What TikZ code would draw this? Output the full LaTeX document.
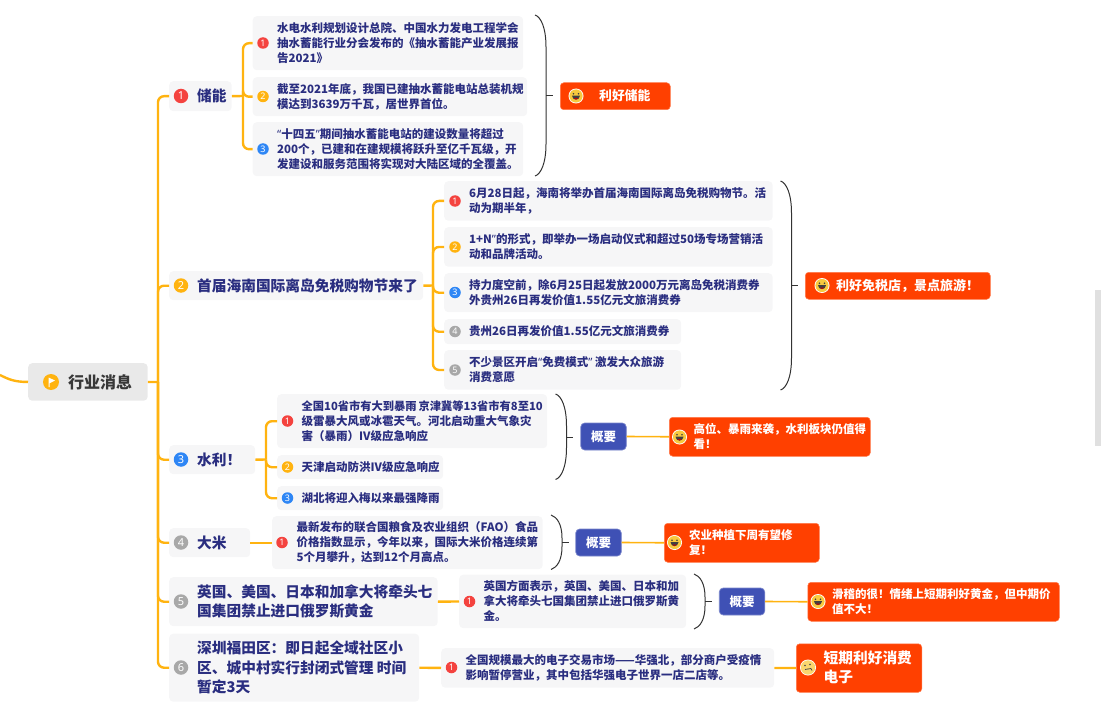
\documentclass[tikz,border=0pt]{standalone}
\usepackage{fontspec}
\usepackage{xcolor}
\setmainfont{Noto Sans CJK SC}
\newfontfamily\latfont{Noto Sans}

\definecolor{linecol}{HTML}{FFB310}
\definecolor{inkcol}{HTML}{2A2E80}
\definecolor{boxcol}{HTML}{F6F6F7}
\definecolor{rootcol}{HTML}{E9E9E9}
\definecolor{hotcol}{HTML}{FF4000}
\definecolor{sumcol}{HTML}{3F51B5}
\definecolor{redcol}{HTML}{F4433F}
\definecolor{ambcol}{HTML}{FFB310}
\definecolor{blucol}{HTML}{2E86F5}
\definecolor{grycol}{HTML}{A8A8A8}
\definecolor{facecol}{HTML}{F8C93E}

\newcommand{\qa}{{\latfont “}}
\newcommand{\qb}{{\latfont ”}}

\tikzset{
	every node/.style={inner sep=0pt},
	topicbox/.style={fill=boxcol, rounded corners=4pt, anchor=north west},
	infobox/.style={fill=boxcol, rounded corners=4pt, anchor=north west},
	hotbox/.style={fill=hotcol, draw=hotcol!70!white, line width=.5pt, rounded corners=3.5pt, anchor=north west},
	sumbox/.style={fill=sumcol, draw=sumcol!70!white, line width=.7pt, rounded corners=4pt, text=white,
		font=\fontsize{12.5}{15}\selectfont\bfseries},
	topictext/.style={anchor=west, align=left, text=inkcol, font=\fontsize{14.7}{19.5}\selectfont\bfseries},
	infotext/.style={anchor=west, align=left, text=inkcol, font=\fontsize{11.5}{15}\selectfont\bfseries},
	hottext/.style={anchor=west, align=left, text=white, font=\fontsize{11.5}{15}\selectfont\bfseries},
	bigbadge/.style={circle, fill=#1, text=white, minimum size=14.5pt, font=\latfont\fontsize{11}{11}\selectfont\bfseries},
	smallbadge/.style={circle, fill=#1, text=white, minimum size=11.5pt, font=\latfont\fontsize{9}{9}\selectfont\bfseries},
	branch/.style={draw=linecol, line width=2.4pt, rounded corners=6pt},
	bracket/.style={draw=black!80, line width=1pt},
	laugh/.pic={
		\fill[white] (0,0) circle (7.5pt);
		\fill[facecol] (0,0) circle (6.6pt);
		\fill[black!75] (-2.5,-2.2) circle (.9pt) (2.5,-2.2) circle (.9pt);
		\fill[black!75] (-4,-.3) .. controls (-3.5,5) and (3.5,5) .. (4,-.3) -- cycle;
		\fill[red!80!black] (-2,2.2) .. controls (-1,4) and (1,4) .. (2,2.2) -- cycle;
	},
	frown/.pic={
		\fill[white] (0,0) circle (8pt);
		\fill[facecol!75!white] (0,0) circle (7.2pt);
		\fill[black!70] (-3,-2) circle (.8pt) (2,-3) circle (.8pt);
		\draw[black!70, line width=.8pt] (-3,2) -- (3,1) (3,1) -- (4,3);
	},
	flagmark/.pic={
		\fill[ambcol] (0,0) circle (8pt);
		\fill[white] (-2.5,-4.5) -- (4,-1.5) -- (-1.3,1.2) -- (-1.3,5) -- (-2.5,5) -- cycle;
	}
}

\begin{document}
\begin{tikzpicture}[x=1pt, y=-1pt]
	\useasboundingbox (0,0) rectangle (1101,706);

	% scrollbar
	\fill[black!12] (1095,290) rectangle (1101,446);

	% root
	\node (root) [fill=rootcol, rounded corners=4pt, anchor=north west, minimum width=119.5pt, minimum height=37.5pt] at (28,363) {};
	\node (roottext) [anchor=west, text=black!78, font=\fontsize{16}{18}\selectfont\bfseries] at (68,382) {行业消息};
	\pic at (51,382) {flagmark};

	% topics
	\foreach \n/\xa/\ya/\xb/\yb/\txt in {
		t1/169/81/231.5/111/{储能},
		t2/169/271/423/300/{首届海南国际离岛免税购物节来了},
		t3/169/445/255/474/{水利！},
		t4/169/528/250/557/{大米},
		t5/169/577/437.5/626/{英国、美国、日本和加拿大将牵头七\\国集团禁止进口俄罗斯黄金},
		t6/169/633.5/419/701.5/{深圳福田区：即日起全域社区小\\区、城中村实行封闭式管理 时间\\暂定3天}}{
		\node (\n) [topicbox, minimum width={\xb-\xa}, minimum height={\yb-\ya}] at (\xa,\ya) {};
		\node (\n text) [topictext] at (197,{(\ya+\yb)/2}) {\txt};
	}

	% leaves
	\foreach \n/\xa/\ya/\xb/\yb/\tx/\txt in {
		a1/252.5/16/523/70/277/{水电水利规划设计总院、中国水力发电工程学会\\抽水蓄能行业分会发布的《抽水蓄能产业发展报\\告2021》},
		a2/252.5/77/527/116/277/{截至2021年底，我国已建抽水蓄能电站总装机规\\模达到3639万千瓦，居世界首位。},
		a3/252.5/122/523/176/277/{\qa 十四五\qb 期间抽水蓄能电站的建设数量将超过\\200个，已建和在建规模将跃升至亿千瓦级，开\\发建设和服务范围将实现对大陆区域的全覆盖。},
		b1/444/181/772.5/220.5/469/{6月28日起，海南将举办首届海南国际离岛免税购物节。活\\动为期半年，},
		b2/444/227/772.5/266.5/469/{1+N\qb 的形式，即举办一场启动仪式和超过50场专场营销活\\动和品牌活动。},
		b3/444/273/772.5/312/469/{持力度空前，除6月25日起发放2000万元离岛免税消费券\\外贵州26日再发价值1.55亿元文旅消费券},
		b4/444/319/681/344/469/{贵州26日再发价值1.55亿元文旅消费券},
		b5/444/350/681/389.5/469/{不少景区开启\qa 免费模式\qb{} 激发大众旅游\\消费意愿},
		c1/277/394/547/448/301.5/{{\fontsize{11.25}{15}\selectfont 全国10省市有大到暴雨\,京津冀等13省市有8至10}\\级雷暴大风或冰雹天气。河北启动重大气象灾\\害（暴雨）IV级应急响应},
		c2/277/455/443/479/301.5/{天津启动防洪IV级应急响应},
		c3/277/486/443/510/301.5/{湖北将迎入梅以来最强降雨},
		d1/272/516/542.5/569/296.5/{最新发布的联合国粮食及农业组织（FAO）食品\\价格指数显示，今年以来，国际大米价格连续第\\5个月攀升，达到12个月高点。},
		e1/459/574.5/686/628/483.5/{英国方面表示，英国、美国、日本和加\\拿大将牵头七国集团禁止进口俄罗斯黄\\金。},
		f1/441/648/774/687.5/465.5/{全国规模最大的电子交易市场——华强北，部分商户受疫情\\影响暂停营业，其中包括华强电子世界一店二店等。}}{
		\node (\n) [infobox, minimum width={\xb-\xa}, minimum height={\yb-\ya}] at (\xa,\ya) {};
		\node (\n text) [infotext] at (\tx,{(\ya+\yb)/2}) {\txt};
	}

	% big badges
	\foreach \n/\y/\c/\num in {t1/96/redcol/1, t2/285.5/ambcol/2, t3/459.5/blucol/3, t4/542.5/grycol/4, t5/601.5/grycol/5, t6/667.5/grycol/6}{
		\node (\n b) [bigbadge=\c] at (181,\y) {\num};
	}

	% small badges
	\foreach \n/\x/\y/\c/\num in {
		a1/263/43/redcol/1, a2/263/96.5/ambcol/2, a3/263/149/blucol/3,
		b1/455/201/redcol/1, b2/455/247/ambcol/2, b3/455/292.5/blucol/3, b4/455/331.5/grycol/4, b5/455/370/grycol/5,
		c1/287.5/421/redcol/1, c2/287.5/467/ambcol/2, c3/287.5/498/blucol/3,
		d1/282/542.5/redcol/1, e1/469.5/601.5/redcol/1, f1/451.5/667.5/redcol/1}{
		\node (\n b) [smallbadge=\c] at (\x,\y) {\num};
	}

	% results
	\foreach \n/\xa/\ya/\xb/\yb/\tx/\txt in {
		r3/669/417/870/456/693.5/{高位、暴雨来袭，水利板块仍值得\\看！},
		r4/664/523/819/562/689/{农业种植下周有望修\\复！},
		r5/807.5/582/1059/621/832/{滑稽的很！情绪上短期利好黄金，但中期价\\值不大！}}{
		\node (\n) [hotbox, minimum width={\xb-\xa}, minimum height={\yb-\ya}] at (\xa,\ya) {};
		\node (\n text) [hottext] at (\tx,{(\ya+\yb)/2}) {\txt};
	}
	\node (r1) [hotbox, minimum width=110pt, minimum height=27pt] at (560,82.5) {};
	\node (r1text) [hottext, font=\fontsize{12.8}{15}\selectfont\bfseries] at (599,96) {利好储能};
	\node (r2) [hotbox, minimum width=185pt, minimum height=27pt] at (805,272) {};
	\node (r2text) [hottext, font=\fontsize{13}{15}\selectfont\bfseries] at (836,285.5) {利好免税店，景点旅游！};
	\node (r6) [hotbox, minimum width=125.5pt, minimum height=48.5pt] at (796,643.5) {};
	\node (r6text) [hottext, font=\fontsize{14.7}{19.5}\selectfont\bfseries] at (823.5,667.5) {短期利好消费\\电子};

	\foreach \x/\y in {576/96, 822/285.5, 679.5/437, 674.5/542.5, 818/601.5}{
		\pic at (\x,\y) {laugh};
	}
	\pic at (808,667.5) {frown};

	% summaries
	\foreach \n/\x/\y in {s3/603.5/436.5, s4/598.5/542.5, s5/742/601.5}{
		\node (\n) [sumbox, minimum width=45.5pt, minimum height=27pt] at (\x,\y) {概要};
	}

	% brackets
	\foreach \n/\xa/\ya/\yb/\ym in {k1/535/15/176/96, k2/780.5/181/390/285.5, k3/555.5/394/479.5/437, k4/551/515/569.5/542.5, k5/694/574/629/601.5}{
		\pgfmathsetmacro{\h}{min(32,(\yb-\ya)*.42)}
		\draw[bracket] (\xa,\ya) .. controls (\xa+6,\ya+2) and (\xa+11,\ya+.4*\h) .. (\xa+11,\ya+\h)
			-- (\xa+11,\yb-\h) .. controls (\xa+11,\yb-.4*\h) and (\xa+6,\yb-2) .. (\xa,\yb);
		\coordinate (\n) at (\xa+11,\ym);
		\draw[bracket] (\n) -- ++(6.5,0);
	}

	% connectors
	\coordinate (rootj) at (158,382);
	\coordinate (incoming) at (0,375);
	\draw[branch] (incoming) .. controls (8,379) and (14,382) .. (root.west);
	\draw[branch] (root.east) -- (rootj);
	\foreach \n in {t1,t2,t3,t4,t5,t6}{
		\draw[branch] (rootj) |- (\n.west);
	}

	\coordinate (t1j) at (243,96);
	\draw[branch] (t1.east) -- (t1j);
	\foreach \n in {a1,a2,a3}{
		\draw[branch] (t1j) |- (\n.west);
	}

	\coordinate (t2j) at (433,285.5);
	\draw[branch] (t2.east) -- (t2j);
	\foreach \n in {b1,b2,b3,b4,b5}{
		\draw[branch] (t2j) |- (\n.west);
	}

	\coordinate (t3j) at (266,459.5);
	\draw[branch] (t3.east) -- (t3j);
	\foreach \n in {c1,c2,c3}{
		\draw[branch] (t3j) |- (\n.west);
	}

	\draw[branch] (t4.east) -- (d1.west);
	\draw[branch] (t5.east) -- (e1.west);
	\draw[branch] (t6.east) -- (f1.west);
	\draw[branch] (f1.east) -- (r6.west);
	\draw[branch, line width=1.6pt] (s3.east) -- (r3.west);
	\draw[branch, line width=1.6pt] (s4.east) -- (r4.west);
	\draw[branch, line width=1.6pt] (s5.east) -- (r5.west);
\end{tikzpicture}
\end{document}
